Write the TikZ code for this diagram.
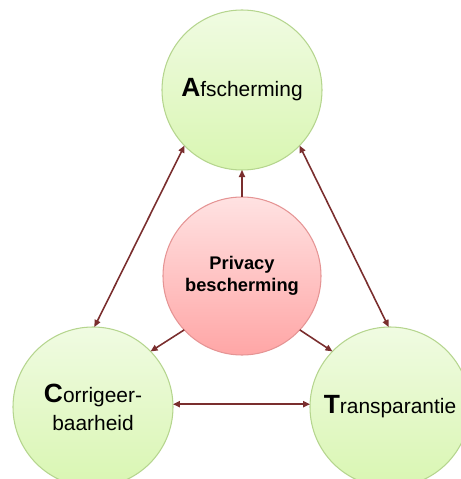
\documentclass[tikz,border=0pt]{standalone}
\usepackage{fontspec}
\setmainfont{Liberation Sans}
\usepackage{xcolor}
\usepackage{tikz}
\usetikzlibrary{arrows.meta, positioning, shapes.geometric, calc}

\definecolor{leafTop}{HTML}{F0FBE2}
\definecolor{leafBot}{HTML}{D9F6B2}
\definecolor{leafLine}{HTML}{B5D58E}
\definecolor{roseTop}{HTML}{FFE2E2}
\definecolor{roseBot}{HTML}{FFA6A6}
\definecolor{roseLine}{HTML}{E59494}
\definecolor{wine}{HTML}{7A2E2E}

\newcommand{\initcap}[1]{{\fontsize{15}{16}\selectfont\bfseries #1}}

\begin{document}
\begin{tikzpicture}[
pillar/.style={circle, draw=leafLine, semithick, top color=leafTop, bottom color=leafBot, minimum size=3.2cm, inner sep=1pt, outer sep=0pt, align=center, font=\fontsize{11.9}{16}\selectfont},
core/.style={circle, draw=roseLine, semithick, top color=roseTop, bottom color=roseBot, minimum size=3.16cm, inner sep=1pt, outer sep=0pt, align=center, font=\fontsize{10.4}{12.5}\selectfont\bfseries},
link/.style={draw=wine, line width=0.9pt, >={Triangle[length=4pt, width=3.5pt]}}
]
\useasboundingbox (0,0) rectangle (9.2,9.58);

% Pillars
\node[pillar] (afsch) at (4.84,7.78) {\initcap{A}fscherming};
\node[pillar] (corr) at (1.86,1.44) {\initcap{C}orrigeer-\\baarheid};
\node[pillar, right of=corr, node distance=5.94cm] (transp) {\initcap{T}ransparantie};

% Core
\node[core, below of=afsch, node distance=3.72cm] (privacy) {Privacy\\bescherming};

% Mutual links
\draw[link, <->] (afsch.224) -- (corr.89);
\draw[link, <->] (afsch.-44) -- (transp.91);
\draw[link, <->] (corr.2) -- (transp.178);

% Core to pillars
\draw[link, ->] (privacy.north) -- (afsch.south);
\draw[link, ->] (privacy.223) -- (corr.44);
\draw[link, ->] (privacy.-43) -- (transp.136);

\end{tikzpicture}
\end{document}
